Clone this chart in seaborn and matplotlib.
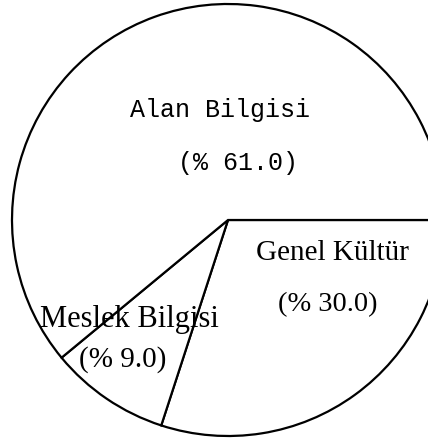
import matplotlib
matplotlib.use("Agg")
import matplotlib.pyplot as plt
import seaborn as sns

# Share of course content by area (percent)
categories = ["Genel Kültür", "Meslek Bilgisi", "Alan Bilgisi"]
shares = [30.0, 9.0, 61.0]
value_labels = ["(% 30.0)", "(% 9.0)", "(% 61.0)"]

sns.set_theme(style="white")
plt.rcParams["font.family"] = ["Liberation Serif", "DejaVu Serif"]

W, H, DPI = 428, 439, 100
fig = plt.figure(figsize=(W / DPI, H / DPI), dpi=DPI)
fig.patch.set_facecolor("white")

cx, cy, r = 228, 221, 216  # pie centre and radius in pixels
ax = fig.add_axes([(cx - r) / W, (H - cy - r) / H, 2 * r / W, 2 * r / H])
ax.pie(
    shares,
    startangle=0,
    counterclock=False,
    colors=["white"] * len(shares),
    wedgeprops=dict(edgecolor="black", linewidth=1.6),
)
ax.set_xlim(-1, 1)
ax.set_ylim(-1, 1)
ax.set_aspect("auto")
ax.axis("off")


def put(text, px, py, size, family):
    fig.text(px / W, 1 - py / H, text, ha="center", va="center",
             fontsize=size, family=family, color="black")


mono = ["Liberation Mono", "DejaVu Sans Mono"]
serif = ["Liberation Serif", "DejaVu Serif"]

put(categories[2], 220, 110, 18, mono)
put(value_labels[2], 238, 163, 18, mono)
put(categories[0], 332, 253, 21, serif)
put(value_labels[0], 328, 305, 20.5, serif)
put(categories[1], 129, 320, 22, serif)
put(value_labels[1], 123, 360, 21, serif)

fig.savefig("out.png", dpi=DPI, facecolor="white")
